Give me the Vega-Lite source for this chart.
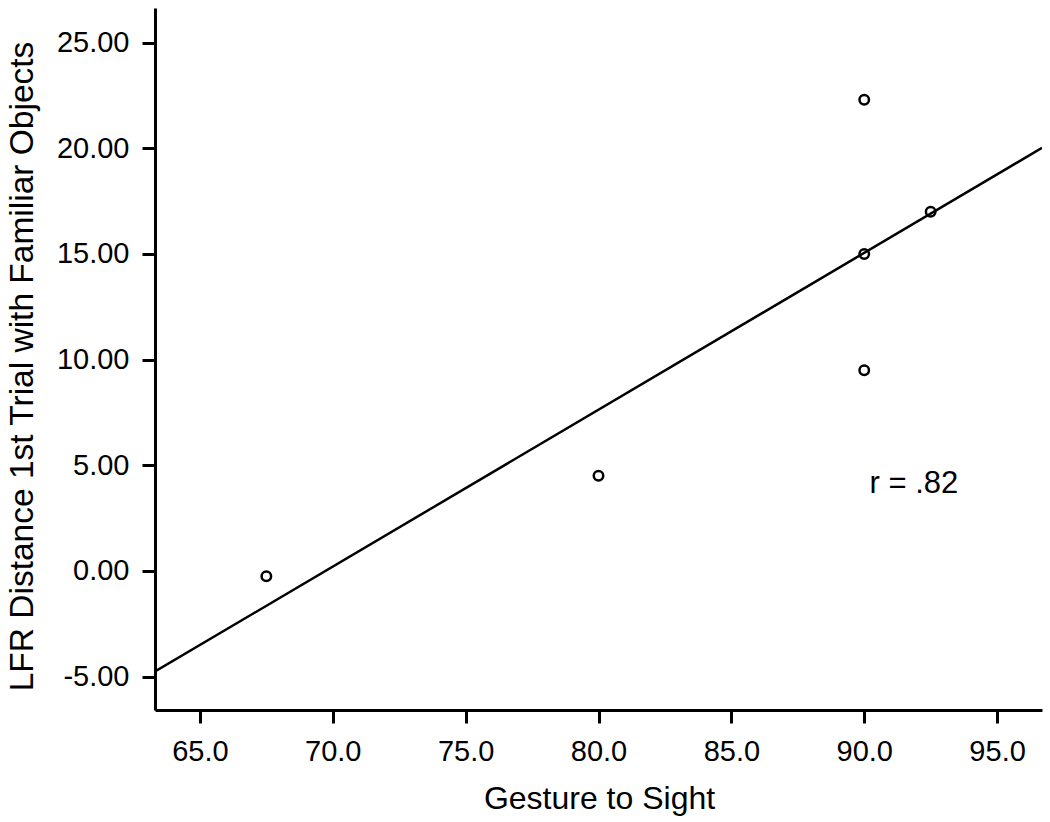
{
  "$schema": "https://vega.github.io/schema/vega-lite/v6.json",
  "width": 887,
  "height": 702,
  "autosize": {"type": "none"},
  "padding": {"left": 155, "top": 8, "right": 8, "bottom": 112},
  "background": "white",
  "config": {
    "view": {"stroke": null},
    "font": "Liberation Sans",
    "axis": {
      "grid": false,
      "domainColor": "black",
      "domainWidth": 3,
      "tickColor": "black",
      "tickWidth": 3,
      "tickSize": 13,
      "labelColor": "black",
      "labelFont": "Liberation Sans",
      "labelFontSize": 29,
      "titleColor": "black",
      "titleFont": "Liberation Sans",
      "titleFontSize": 32,
      "titleFontWeight": "normal"
    }
  },
  "datasets": {
    "points": [
      {"x": 67.5, "y": -0.25},
      {"x": 80.0, "y": 4.5},
      {"x": 90.0, "y": 22.3},
      {"x": 92.5, "y": 17.0},
      {"x": 90.0, "y": 15.0},
      {"x": 90.0, "y": 9.5}
    ],
    "fit": [
      {"x": 63.31, "y": -4.76},
      {"x": 96.69, "y": 20.02}
    ],
    "note": [
      {"x": 90.2, "y": 4.1, "label": "r = .82"}
    ]
  },
  "layer": [
    {
      "data": {"name": "fit"},
      "mark": {"type": "line", "color": "black", "strokeWidth": 2.5, "clip": true},
      "encoding": {
        "x": {
          "field": "x", "type": "quantitative",
          "scale": {"domain": [63.31, 96.69], "nice": false, "zero": false},
          "axis": {
            "title": "Gesture to Sight",
            "values": [65, 70, 75, 80, 85, 90, 95],
            "format": ".1f",
            "labelPadding": 14,
            "titleX": 444,
            "titleY": 98,
            "titleBaseline": "alphabetic"
          }
        },
        "y": {
          "field": "y", "type": "quantitative",
          "scale": {"domain": [-6.58, 26.64], "nice": false, "zero": false},
          "axis": {
            "title": "LFR Distance 1st Trial with Familiar Objects",
            "values": [-5, 0, 5, 10, 15, 20, 25],
            "format": ".2f",
            "labelExpr": "replace(datum.label, '−', '-')",
            "labelPadding": 13,
            "titleFontSize": 33.5,
            "titleX": -123,
            "titleY": 358,
            "titleBaseline": "alphabetic",
            "titleAngle": -90,
            "titleAlign": "center"
          }
        }
      }
    },
    {
      "data": {"name": "points"},
      "mark": {"type": "point", "shape": "circle", "filled": false, "color": "black", "size": 90, "strokeWidth": 2.5, "opacity": 1},
      "encoding": {
        "x": {"field": "x", "type": "quantitative"},
        "y": {"field": "y", "type": "quantitative"}
      }
    },
    {
      "data": {"name": "note"},
      "mark": {"type": "text", "align": "left", "baseline": "middle", "fontSize": 31, "color": "black", "font": "Liberation Sans"},
      "encoding": {
        "x": {"field": "x", "type": "quantitative"},
        "y": {"field": "y", "type": "quantitative"},
        "text": {"field": "label"}
      }
    }
  ]
}
